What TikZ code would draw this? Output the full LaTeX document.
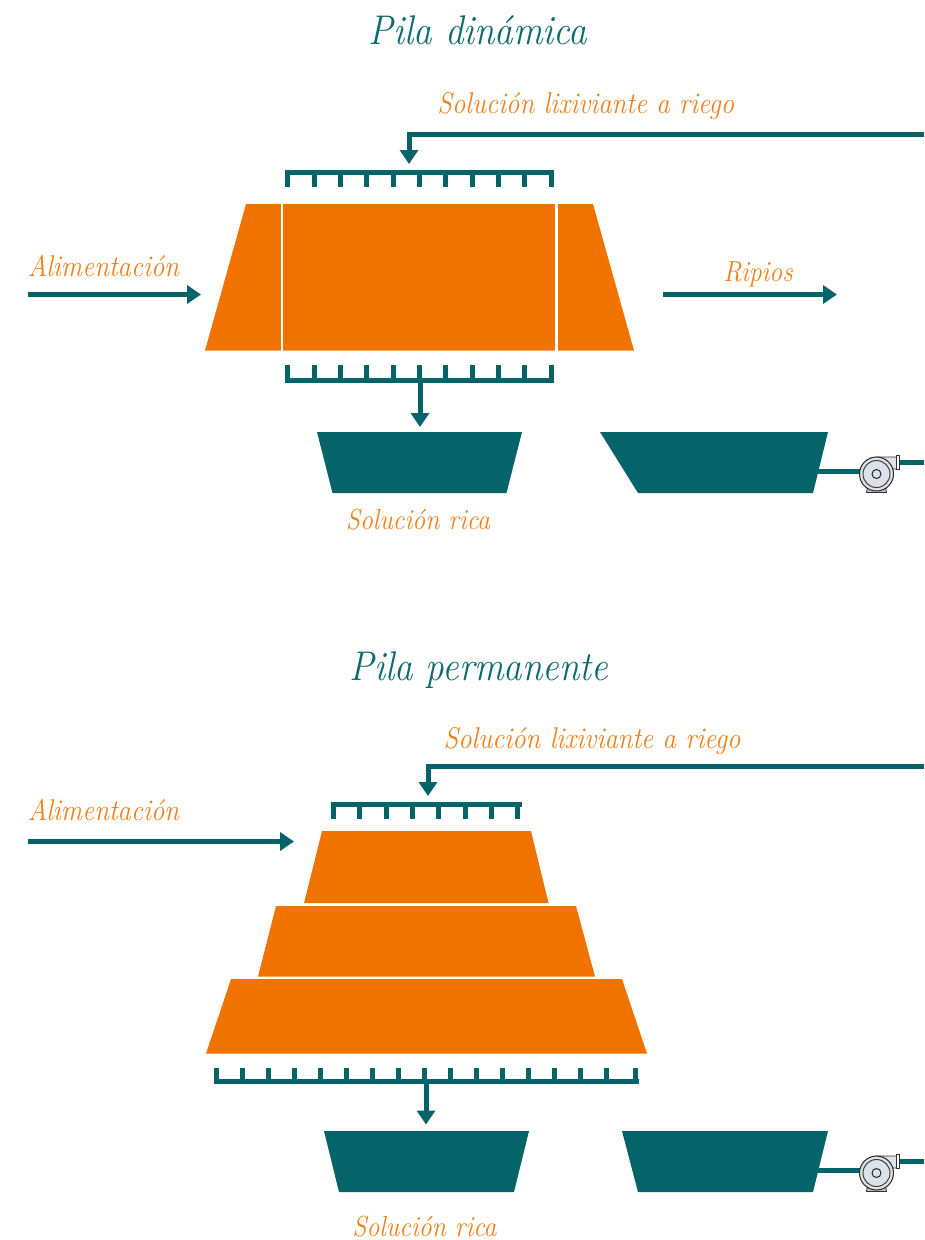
\documentclass[tikz,border=0pt]{standalone}
\usepackage{fontspec}
\setmainfont[FakeStretch=0.89]{Latin Modern Roman}
\usetikzlibrary{arrows.meta}
\definecolor{tealc}{HTML}{05646A}
\definecolor{orangec}{HTML}{F07300}
\definecolor{labelc}{HTML}{F37E18}
\definecolor{titlec}{HTML}{0F6A70}
\definecolor{pumpfill}{HTML}{DCE3E8}
\tikzset{
  x=1pt,y=-1pt,
  pipe/.style={draw=tealc,line width=5pt},
  flowarrow/.style={pipe,-{Triangle[length=14pt,width=18pt]}},
  heap/.style={fill=orangec},
  pond/.style={fill=tealc},
  titletext/.style={anchor=base,text=titlec,font=\itshape\fontsize{41.5}{41.5}\selectfont,inner sep=0pt},
  labeltext/.style={anchor=base,text=labelc,font=\itshape\fontsize{30}{30}\selectfont,inner sep=0pt},
  shorttext/.style={labeltext,font=\itshape\fontsize{29}{29}\selectfont},
  seam/.style={draw=white,line width=2.5pt},
}
\newcommand{\pumpunit}[2]{%
  \begin{scope}[shift={(#1,#2)}]
    \fill[fill=pumpfill!70!gray,draw=black!80,line width=.8pt] (-9,13) -- (9,13) -- (10,18.5) -- (-10,18.5) -- cycle;
    \fill[fill=pumpfill,draw=black!80,line width=.8pt] (0,-17) -- (20,-17) -- (20,-5) -- (13,-5) -- (13,0) -- cycle;
    \fill[fill=white,draw=black!80,line width=.8pt] (19.5,-18.5) rectangle (23,-5);
    \fill[fill=pumpfill,draw=black!85,line width=1pt] (0,0) circle (17);
    \draw[black!75,line width=1pt] (0,0) circle (13.5);
    \fill[fill=pumpfill,draw=black!85,line width=1pt] (0,0) circle (4.5);
  \end{scope}}
\begin{document}
\begin{tikzpicture}
\useasboundingbox (0,0) rectangle (924,1240);
% ---------- Pila dinamica
\node[titletext] (t1) at (478,44.5) {Pila dinámica};
\node[labeltext] (l1) at (585.8,113.3) {Solución lixiviante a riego};
\node[labeltext] (l2) at (103.5,276) {Alimentación};
\node[shorttext] (l3) at (758,281) {Ripios};
\node[shorttext] (l4) at (418,529) {Solución rica};
\fill[heap] (246,204) -- (593,204) -- (634,350.5) -- (205,350.5) -- cycle;
\coordinate (s1a) at (282,204); \coordinate (s1b) at (282,351);
\coordinate (s2a) at (556.5,204); \coordinate (s2b) at (556.5,351);
\draw[seam] (s1a) -- (s1b);
\draw[seam] (s2a) -- (s2b);
\fill[pond] (317,432) -- (522,432) -- (506.5,493) -- (332.5,493) -- cycle;
\fill[pond] (600,432) -- (828,432) -- (813,493) -- (638,493) -- cycle;
% top comb
\draw[pipe] (285.2,172) -- (553.5,172);
\foreach \k in {0,...,10} \draw[pipe] ({287.7+26.33*\k},172) -- ({287.7+26.33*\k},187.3);
% bottom comb
\draw[pipe] (285.2,380) -- (553.5,380);
\foreach \k in {0,...,10} \draw[pipe] ({287.7+26.33*\k},380) -- ({287.7+26.33*\k},365);
% arrows
\coordinate (a1s) at (924,134.5); \coordinate (a1c) at (409,134.5); \coordinate (a1e) at (409,164);
\draw[flowarrow] (a1s) -- (a1c) -- (a1e);
\coordinate (a2s) at (420,380); \coordinate (a2e) at (420,427);
\draw[flowarrow] (a2s) -- (a2e);
\coordinate (a3s) at (28,294.5); \coordinate (a3e) at (201,294.5);
\draw[flowarrow] (a3s) -- (a3e);
\coordinate (a4s) at (663,294.5); \coordinate (a4e) at (837,294.5);
\draw[flowarrow] (a4s) -- (a4e);
\coordinate (p1a) at (817,471.7); \coordinate (p1b) at (862,471.7);
\draw[pipe] (p1a) -- (p1b);
\coordinate (p1c) at (898,462); \coordinate (p1d) at (924,462);
\draw[pipe] (p1c) -- (p1d);
\pumpunit{876.5}{474}
% ---------- Pila permanente
\node[titletext] (t2) at (479,680) {Pila permanente};
\node[labeltext] (l5) at (592,748) {Solución lixiviante a riego};
\node[labeltext] (l6) at (103.5,820) {Alimentación};
\node[shorttext] (l7) at (424.5,1236) {Solución rica};
\fill[heap] (322,831) -- (531,831) -- (548.5,903) -- (304,903) -- cycle;
\fill[heap] (276,906) -- (576,906) -- (595,976.5) -- (258,976.5) -- cycle;
\fill[heap] (231,979) -- (622,979) -- (647,1053.5) -- (206,1053.5) -- cycle;
\fill[pond] (324,1131) -- (529,1131) -- (514,1192) -- (339,1192) -- cycle;
\fill[pond] (622,1131) -- (828,1131) -- (813,1192) -- (638,1192) -- cycle;
\draw[pipe] (331,804) -- (522,804);
\foreach \k in {0,...,7} \draw[pipe] ({333.5+26.3*\k},804) -- ({333.5+26.3*\k},819.3);
\draw[pipe] (214,1081.5) -- (638.5,1081.5);
\foreach \k in {0,...,16} \draw[pipe] ({216.7+26*\k+(\k==16?3:0)},1081.5) -- ({216.7+26*\k+(\k==16?3:0)},1068);
\coordinate (b1s) at (924,766); \coordinate (b1c) at (428,766); \coordinate (b1e) at (428,796);
\draw[flowarrow] (b1s) -- (b1c) -- (b1e);
\coordinate (b2s) at (426,1081.5); \coordinate (b2e) at (426,1124.5);
\draw[flowarrow] (b2s) -- (b2e);
\coordinate (b3s) at (28,841.5); \coordinate (b3e) at (294,841.5);
\draw[flowarrow] (b3s) -- (b3e);
\coordinate (p2a) at (817,1170.7); \coordinate (p2b) at (862,1170.7);
\draw[pipe] (p2a) -- (p2b);
\coordinate (p2c) at (898,1161); \coordinate (p2d) at (924,1161);
\draw[pipe] (p2c) -- (p2d);
\pumpunit{876.5}{1173}
\end{tikzpicture}
\end{document}
